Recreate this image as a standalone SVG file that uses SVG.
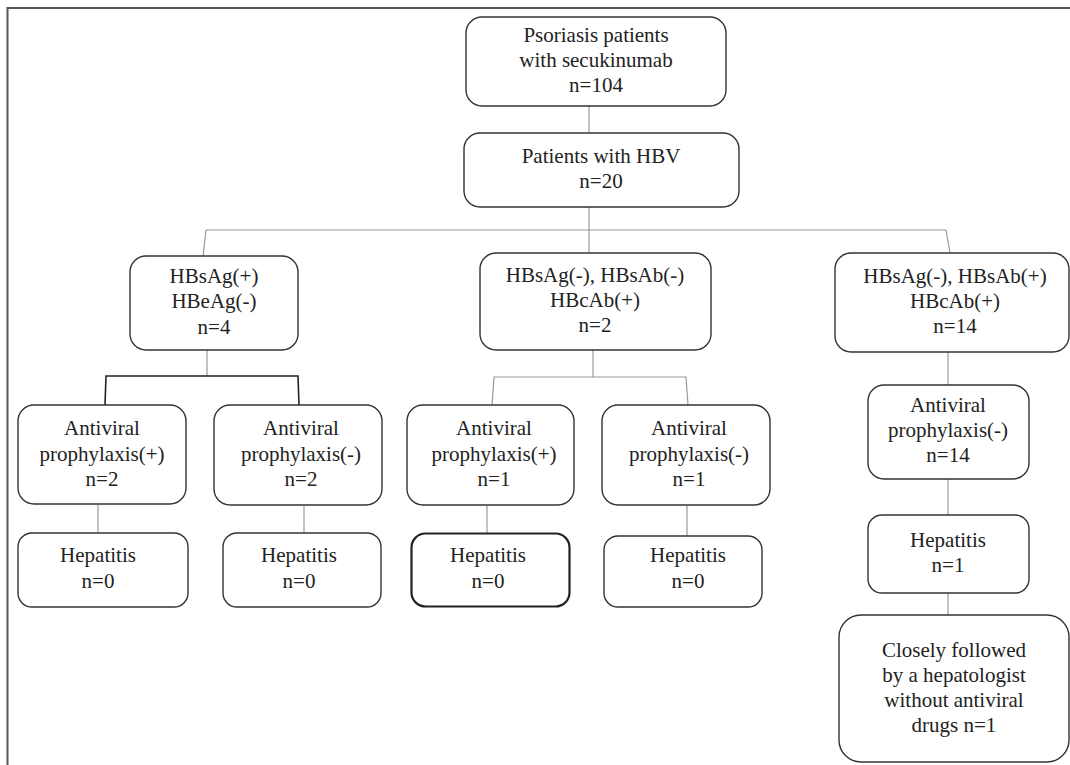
<svg xmlns="http://www.w3.org/2000/svg" width="1070" height="765" viewBox="0 0 1070 765">
<style>
.n rect{fill:#fff;stroke:#333;stroke-width:1.4}
.n text{font-family:'Liberation Serif','DejaVu Serif',serif;font-size:21px;fill:#222;text-anchor:middle}
.c line,.c polyline{stroke:#999;stroke-width:1.2;fill:none}
.c .dk{stroke:#222;stroke-width:1.6}
</style>
<rect width="1070" height="765" fill="#fff"/>
<path d="M7.5 765 V8 H1070" fill="none" stroke="#555" stroke-width="2"/>
<g class="c" id="connectors">
<line x1="589" y1="106" x2="589" y2="133"/>
<line x1="589" y1="207" x2="589" y2="253"/>
<polyline points="203,257 206,230 946,230 950,253"/>
<line x1="207" y1="350" x2="207" y2="376"/>
<polyline class="dk" points="105,405 106,376 298,376 299,405"/>
<line x1="593" y1="350" x2="593" y2="377"/>
<polyline points="492,405 494,377 686,377 688,405"/>
<line x1="98" y1="505" x2="98" y2="533"/>
<line x1="304" y1="506" x2="304" y2="533"/>
<line x1="487" y1="506" x2="487" y2="533"/>
<line x1="687" y1="506" x2="687" y2="536"/>
<line x1="948" y1="352" x2="948" y2="385"/>
<line x1="948" y1="479" x2="948" y2="515"/>
<line x1="948" y1="593" x2="948" y2="615"/>
</g>
<g class="n" id="n-psoriasis">
<rect x="466" y="17" width="260" height="89" rx="16"/>
<text x="596" y="42">Psoriasis patients</text>
<text x="596" y="67">with secukinumab</text>
<text x="596" y="92">n=104</text>
</g>
<g class="n" id="n-hbv">
<rect x="464" y="133" width="275" height="74" rx="16"/>
<text x="601" y="163">Patients with HBV</text>
<text x="601" y="188">n=20</text>
</g>
<g class="n" id="n-hbsag-pos">
<rect x="130" y="256" width="168" height="94" rx="16"/>
<text x="214" y="283">HBsAg(+)</text>
<text x="214" y="308">HBeAg(-)</text>
<text x="214" y="334">n=4</text>
</g>
<g class="n" id="n-hbsab-neg">
<rect x="480" y="253" width="231" height="97" rx="16"/>
<text x="595" y="282">HBsAg(-), HBsAb(-)</text>
<text x="595" y="307">HBcAb(+)</text>
<text x="595" y="332">n=2</text>
</g>
<g class="n" id="n-hbsab-pos">
<rect x="835" y="253" width="234" height="99" rx="16"/>
<text x="955" y="283">HBsAg(-), HBsAb(+)</text>
<text x="955" y="308">HBcAb(+)</text>
<text x="955" y="333">n=14</text>
</g>
<g class="n" id="n-av1">
<rect x="18" y="405" width="168" height="99" rx="16"/>
<text x="102" y="435">Antiviral</text>
<text x="102" y="461">prophylaxis(+)</text>
<text x="102" y="486">n=2</text>
</g>
<g class="n" id="n-av2">
<rect x="214" y="405" width="168" height="100" rx="16"/>
<text x="301" y="435">Antiviral</text>
<text x="301" y="461">prophylaxis(-)</text>
<text x="301" y="486">n=2</text>
</g>
<g class="n" id="n-av3">
<rect x="407" y="405" width="167" height="100" rx="16"/>
<text x="494" y="435">Antiviral</text>
<text x="494" y="461">prophylaxis(+)</text>
<text x="494" y="486">n=1</text>
</g>
<g class="n" id="n-av4">
<rect x="602" y="405" width="168" height="100" rx="16"/>
<text x="689" y="435">Antiviral</text>
<text x="689" y="461">prophylaxis(-)</text>
<text x="689" y="486">n=1</text>
</g>
<g class="n" id="n-av5">
<rect x="868" y="385" width="161" height="94" rx="16"/>
<text x="948" y="412">Antiviral</text>
<text x="948" y="437">prophylaxis(-)</text>
<text x="948" y="462">n=14</text>
</g>
<g class="n" id="n-hep1">
<rect x="18" y="533" width="170" height="74" rx="14"/>
<text x="98" y="562">Hepatitis</text>
<text x="98" y="588">n=0</text>
</g>
<g class="n" id="n-hep2">
<rect x="223" y="533" width="158" height="74" rx="14"/>
<text x="299" y="562">Hepatitis</text>
<text x="299" y="588">n=0</text>
</g>
<g class="n" id="n-hep3">
<rect x="411.5" y="533.5" width="158" height="73" rx="14" style="stroke:#222;stroke-width:2.2"/>
<text x="488" y="562">Hepatitis</text>
<text x="488" y="588">n=0</text>
</g>
<g class="n" id="n-hep4">
<rect x="604" y="536" width="158" height="71" rx="14"/>
<text x="688" y="562">Hepatitis</text>
<text x="688" y="588">n=0</text>
</g>
<g class="n" id="n-hep5">
<rect x="868" y="515" width="161" height="78" rx="14"/>
<text x="948" y="547">Hepatitis</text>
<text x="948" y="572">n=1</text>
</g>
<g class="n" id="n-followed">
<rect x="839" y="615" width="230" height="147" rx="22"/>
<text x="954" y="657">Closely followed</text>
<text x="954" y="682">by a hepatologist</text>
<text x="954" y="707">without antiviral</text>
<text x="954" y="732">drugs n=1</text>
</g>
</svg>
